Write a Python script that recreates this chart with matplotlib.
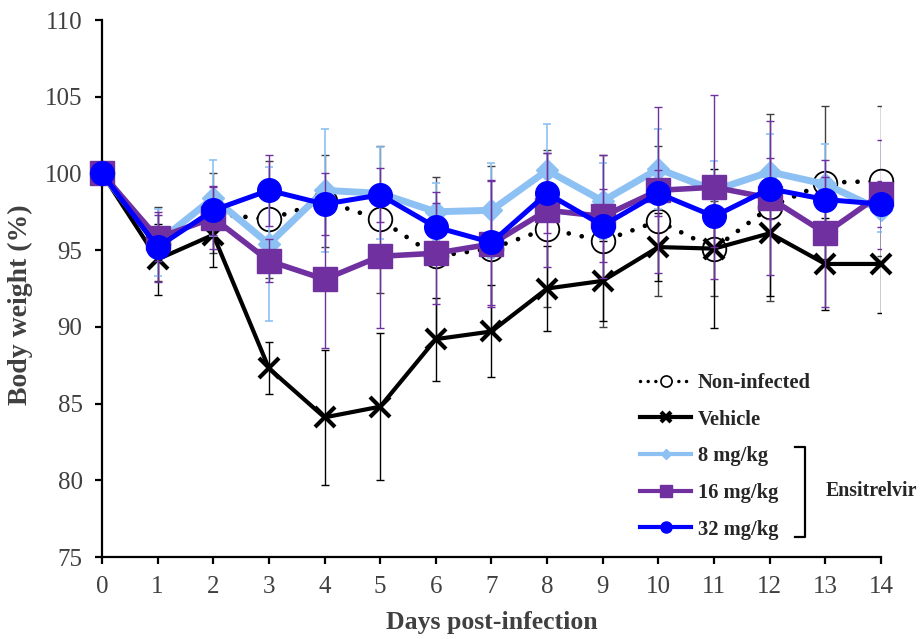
import matplotlib
matplotlib.use("Agg")
from matplotlib import pyplot as plt
from matplotlib.lines import Line2D

plt.rcParams['font.family'] = ['Liberation Serif', 'DejaVu Serif']

days = list(range(15))

non_infected = [100, 95.4, 97.4, 97.0, 98.2, 97.0, 94.6, 95.1, 96.4, 95.6, 96.9, 95.1, 97.8, 99.4, 99.5]
non_infected_err = [0, 2.4, 2.6, 3.8, 3.0, 4.8, 5.2, 5.4, 5.1, 5.6, 4.9, 3.1, 6.1, 5.0, 4.9]

vehicle = [100, 94.4, 96.0, 87.3, 84.1, 84.8, 89.2, 89.7, 92.5, 93.0, 95.2, 95.1, 96.1, 94.1, 94.1]
vehicle_err = [0, 2.3, 2.1, 1.7, 4.4, 4.8, 2.7, 3.0, 2.8, 2.6, 2.2, 5.2, 4.1, 3.0, 3.2]

mg8 = [100, 95.5, 98.4, 95.4, 98.9, 98.7, 97.5, 97.6, 100.2, 98.2, 100.3, 98.9, 100.1, 99.3, 97.6]
mg8_err = [0, 2.2, 2.5, 5.0, 4.0, 3.0, 1.9, 3.1, 3.0, 2.5, 2.6, 1.9, 2.5, 2.6, 1.4]

mg16 = [100, 95.8, 97.1, 94.3, 93.1, 94.6, 94.8, 95.4, 97.6, 97.2, 98.9, 99.1, 98.4, 96.1, 98.65]
mg16_err = [0, 1.5, 2.0, 1.4, 4.5, 4.7, 3.3, 4.1, 3.7, 4.0, 5.4, 6.0, 5.0, 4.8, 3.55]

mg32 = [100, 95.2, 97.6, 98.9, 98.0, 98.6, 96.5, 95.5, 98.7, 96.6, 98.7, 97.2, 99.0, 98.3, 98.0]
mg32_err = [0, 2.3, 1.6, 2.3, 2.0, 1.75, 2.3, 4.1, 2.6, 2.4, 1.5, 2.0, 2.0, 1.5, 1.5]

labels = ['Non-infected', 'Vehicle', '8 mg/kg', '16 mg/kg', '32 mg/kg']

fig = plt.figure(figsize=(9.21, 6.39), dpi=100)
ax = fig.add_axes([0.1107, 0.1283, 0.9566 - 0.1107, 0.9687 - 0.1283])

lightblue = '#8EC1F3'
purple = '#7030A0'
blue = '#0000FF'

# error bars (clipped at the axes like in the original)
ax.errorbar(days, non_infected, yerr=non_infected_err, fmt='none', ecolor='#404040', elinewidth=1, capsize=3, capthick=1, zorder=2)
ax.errorbar(days, vehicle, yerr=vehicle_err, fmt='none', ecolor='black', elinewidth=1, capsize=3, capthick=1, zorder=3)
ax.errorbar(days, mg8, yerr=mg8_err, fmt='none', ecolor=lightblue, elinewidth=1.2, capsize=3, capthick=1.2, zorder=4)
ax.errorbar(days, mg16, yerr=mg16_err, fmt='none', ecolor=purple, elinewidth=1, capsize=3, capthick=1, zorder=5)
ax.errorbar(days, mg32, yerr=mg32_err, fmt='none', ecolor=purple, elinewidth=1, capsize=3, capthick=1, zorder=6)

# series lines
ax.plot(days, non_infected, color='black', lw=3.4, ls=(0, (0.01, 2.8)), dash_capstyle='round',
        marker='o', ms=17, mfc='white', mec='black', mew=1.3, clip_on=False, zorder=2.5)
ax.plot(days, vehicle, color='black', lw=3, marker='x', ms=15, mew=3, clip_on=False, zorder=3.5)
ax.plot(days, mg8, color=lightblue, lw=5, marker='D', ms=11, mfc=lightblue, mec=lightblue, clip_on=False, zorder=4.5)
ax.plot(days, mg16, color=purple, lw=4, marker='s', ms=17, mfc=purple, mec=purple, clip_on=False, zorder=5.5)
ax.plot(days, mg32, color=blue, lw=3.6, marker='o', ms=17, mfc=blue, mec=blue, clip_on=False, zorder=6.5)

ax.set_xlim(0, 14)
ax.set_ylim(75, 110)
ax.set_xticks(days)
ax.set_yticks(range(75, 111, 5))

for s in ['top', 'right']:
    ax.spines[s].set_visible(False)
for s in ['left', 'bottom']:
    ax.spines[s].set_linewidth(1.6)
ax.tick_params(direction='out', length=5, width=1.6, labelsize=18, labelcolor='#404040', pad=9)

ax.set_xlabel('Days post-infection', fontsize=18.5, fontweight='bold', color='#404040', labelpad=9)
ax.set_ylabel('Body weight (%)', fontsize=20, fontweight='bold', color='#404040')
ax.yaxis.set_label_coords(-0.088, 0.47)

handles = [
    Line2D([], [], color='black', lw=2.5, ls=(0, (0.01, 2.2)), dash_capstyle='round', marker='o', ms=8, mfc='white', mec='black', mew=1.2),
    Line2D([], [], color='black', lw=3, marker='x', ms=7, mew=3),
    Line2D([], [], color=lightblue, lw=3, marker='D', ms=5),
    Line2D([], [], color=purple, lw=3, marker='s', ms=8),
    Line2D([], [], color=blue, lw=3, marker='o', ms=8),
]
leg = ax.legend(handles, labels, loc='upper left', bbox_to_anchor=(640 / 921, 1 - 373 / 639),
                bbox_transform=fig.transFigure, frameon=False, borderpad=0, borderaxespad=0,
                handlelength=2.5, handletextpad=0.3, labelspacing=0.81,
                prop={'family': 'Liberation Serif', 'weight': 'bold', 'size': 14.8})
for t in leg.get_texts():
    t.set_color('#262626')

# bracket for the Ensitrelvir doses
bx, bx0, btop, bbot = 805 / 921, 795 / 921, 1 - 447 / 639, 1 - 537 / 639
fig.add_artist(Line2D([bx0, bx, bx, bx0], [btop, btop, bbot, bbot], color='black', lw=1.6,
                      transform=fig.transFigure))
fig.text(826 / 921, 1 - 491 / 639, 'Ensitrelvir', fontsize=14.3, fontweight='bold', color='#262626',
         va='center', ha='left')

plt.savefig('out.png', dpi=100)
